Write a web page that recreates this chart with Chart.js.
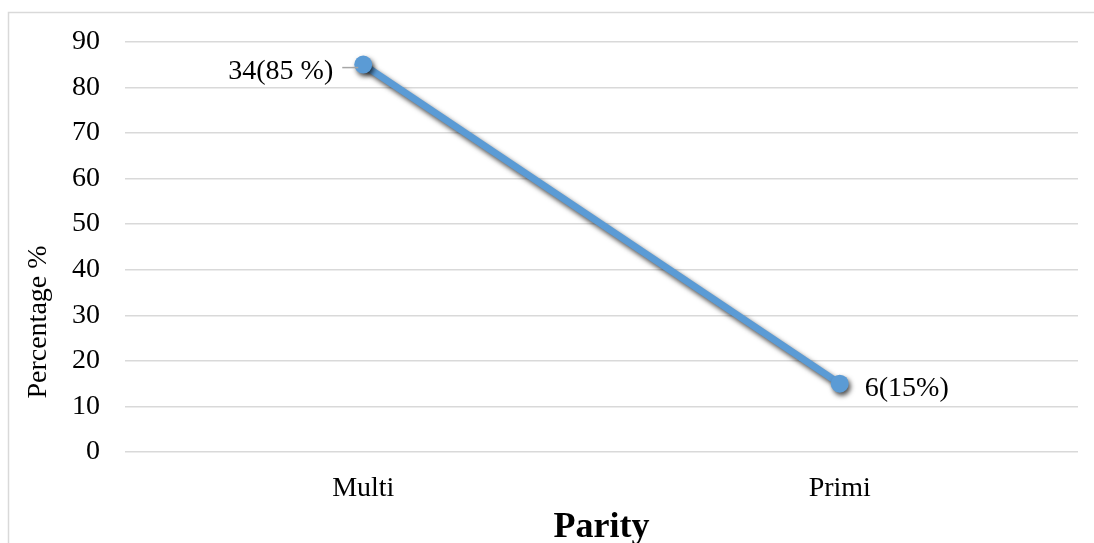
<!DOCTYPE html>
<html>
<head>
<meta charset="utf-8">
<script src="https://cdn.jsdelivr.net/npm/chart.js@4.4.1/dist/chart.umd.min.js"></script>
<style>
  html, body { margin: 0; padding: 0; background: #ffffff; }
  #wrap { width: 1094px; height: 543px; position: relative; }
</style>
</head>
<body>
<div id="wrap"><canvas id="c" width="1094" height="543"></canvas></div>
<script>
const categories = ["Multi", "Primi"];
const percentValues = [85, 15];
const pointLabels = ["34(85 %)", "6(15%)"];
const yTicks = [0, 10, 20, 30, 40, 50, 60, 70, 80, 90];
const xTitle = "Parity";
const yTitle = "Percentage %";

const FONT = "'Liberation Serif', 'Times New Roman', serif";
const GRID = "#d9d9d9";

const decor = {
  id: "decor",
  beforeDraw(chart) {
    const ctx = chart.ctx;
    ctx.save();
    ctx.strokeStyle = GRID;
    ctx.lineWidth = 1.5;
    ctx.beginPath();
    ctx.moveTo(8.5, 543);
    ctx.lineTo(8.5, 12.5);
    ctx.lineTo(1094, 12.5);
    ctx.stroke();
    ctx.restore();
  },
  beforeDatasetsDraw(chart) {
    const ctx = chart.ctx;
    ctx.save();
    ctx.shadowColor = "rgba(0,0,0,0.7)";
    ctx.shadowBlur = 5;
    ctx.shadowOffsetX = 2;
    ctx.shadowOffsetY = 3;
  },
  afterDatasetsDraw(chart) {
    const ctx = chart.ctx;
    ctx.restore();
    const meta = chart.getDatasetMeta(0);
    ctx.save();
    ctx.font = "28px " + FONT;
    ctx.fillStyle = "#000";
    ctx.textBaseline = "middle";
    meta.data.forEach((pt, i) => {
      if (i === 0) {
        ctx.strokeStyle = "#a6a6a6";
        ctx.lineWidth = 1.5;
        ctx.beginPath();
        ctx.moveTo(pt.x - 21, pt.y + 3);
        ctx.lineTo(pt.x - 5, pt.y + 3);
        ctx.stroke();
        ctx.textAlign = "right";
        ctx.fillText(pointLabels[i], pt.x - 30, pt.y + 7);
      } else {
        ctx.textAlign = "left";
        ctx.fillText(pointLabels[i], pt.x + 25, pt.y + 5);
      }
    });
    // axis titles
    const area = chart.chartArea;
    ctx.textAlign = "center";
    ctx.textBaseline = "alphabetic";
    ctx.font = "bold 36px " + FONT;
    ctx.fillText(xTitle, (area.left + area.right) / 2, 537);
    ctx.font = "28px " + FONT;
    ctx.translate(46, 322);
    ctx.rotate(-Math.PI / 2);
    ctx.fillText(yTitle, 0, 0);
    ctx.restore();
  }
};

new Chart(document.getElementById("c"), {
  type: "line",
  data: {
    labels: categories,
    datasets: [{
      data: percentValues,
      borderColor: "#5b9bd5",
      backgroundColor: "#5b9bd5",
      borderWidth: 7,
      pointRadius: 9,
      pointHoverRadius: 9,
      pointBorderWidth: 0,
      tension: 0,
      fill: false
    }]
  },
  options: {
    responsive: false,
    animation: false,
    events: [],
    layout: { padding: { left: 0, right: 16, top: 41, bottom: 0 } },
    plugins: {
      legend: { display: false },
      tooltip: { enabled: false },
      title: { display: false }
    },
    scales: {
      x: {
        type: "category",
        offset: true,
        grid: { display: false, drawTicks: false },
        border: { display: false },
        ticks: { color: "#000", font: { family: FONT, size: 28 }, padding: 20 },
        afterFit(scale) { scale.height = 91; }
      },
      y: {
        min: 0,
        max: 90,
        afterBuildTicks(scale) { scale.ticks = yTicks.map(v => ({ value: v })); },
        grid: { color: GRID, lineWidth: 1.5, drawTicks: false },
        border: { display: false },
        ticks: { color: "#000", font: { family: FONT, size: 28 }, padding: 25 },
        afterFit(scale) { scale.width = 125; }
      }
    }
  },
  plugins: [decor]
});
</script>
</body>
</html>
